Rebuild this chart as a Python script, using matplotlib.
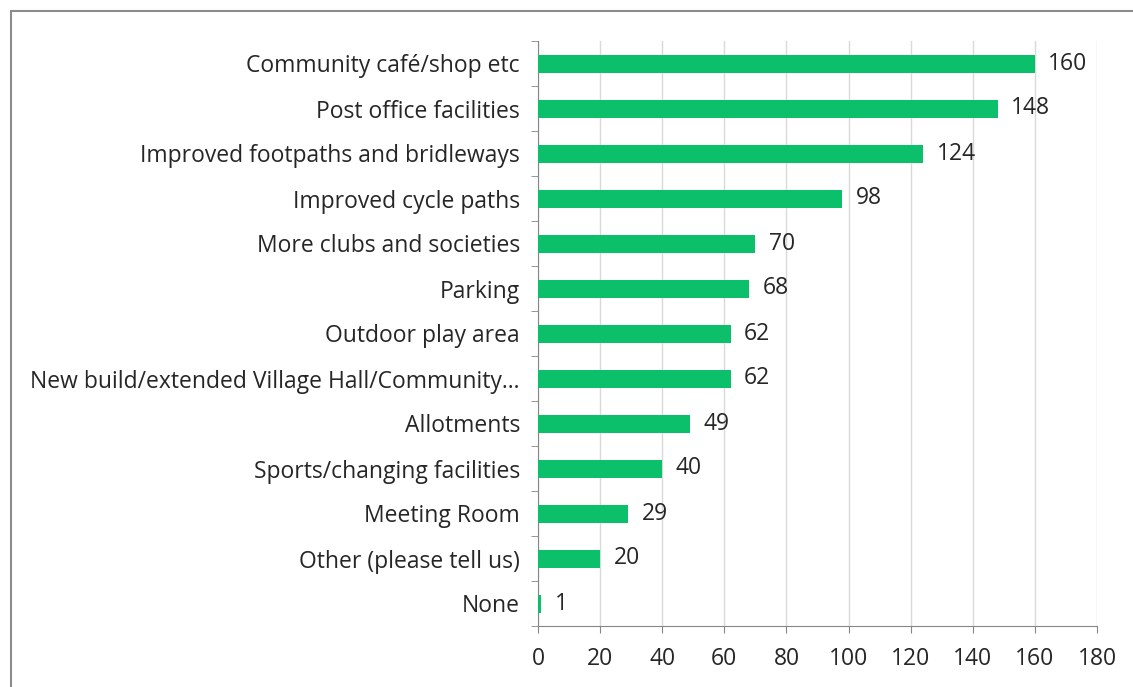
import matplotlib.pyplot as plt
from matplotlib.patches import Rectangle

# Data (top to bottom)
categories = ['Community café/shop etc', 'Post office facilities',
              'Improved footpaths and bridleways', 'Improved cycle paths',
              'More clubs and societies', 'Parking', 'Outdoor play area',
              'New build/extended Village Hall/Community…', 'Allotments',
              'Sports/changing facilities', 'Meeting Room',
              'Other (please tell us)', 'None']
counts = [160, 148, 124, 98, 70, 68, 62, 62, 49, 40, 29, 20, 1]
xticks = [0, 20, 40, 60, 80, 100, 120, 140, 160, 180]

plt.rcParams['font.family'] = ['Open Sans', 'DejaVu Sans']
fs = 16.5

W, H = 1133, 687
fig = plt.figure(figsize=(W / 100, H / 100), dpi=100)
ax = fig.add_axes([538 / W, 1 - 626 / H, (1097 - 538) / W, (626 - 41) / H])

y = list(range(len(categories)))
ax.barh(y, counts, height=0.4, color='#0BBF6B', zorder=3)
ax.set_ylim(len(categories) - 0.5, -0.5)
ax.set_xlim(0, 180)

for i, v in enumerate(counts):
    ax.text(v + 4.3, i, str(v), va='center', ha='left', fontsize=fs, color='#262626')

ax.set_yticks(y)
ax.set_yticklabels(categories, fontsize=fs, color='#262626')
ax.set_yticks([i + 0.5 for i in range(-1, len(categories))], minor=True)
ax.tick_params(axis='y', which='major', length=0, pad=13)
ax.tick_params(axis='y', which='minor', length=5, color='#868686')

ax.set_xticks(xticks)
ax.tick_params(axis='x', labelsize=fs, labelcolor='#262626', length=5,
               color='#868686', pad=10)

ax.grid(axis='x', color='#D9D9D9', linewidth=1, zorder=0)
for s in ['top', 'right']:
    ax.spines[s].set_visible(False)
ax.spines['left'].set_color('#868686')
ax.spines['bottom'].set_color('#868686')

# outer chart border
fig.patches.append(Rectangle((11 / W, -0.1), 1.2, 1.1 - 11 / H,
                             transform=fig.transFigure, fill=False,
                             edgecolor='#8C8C8C', linewidth=1.5))

fig.savefig('out.png', dpi=100)
